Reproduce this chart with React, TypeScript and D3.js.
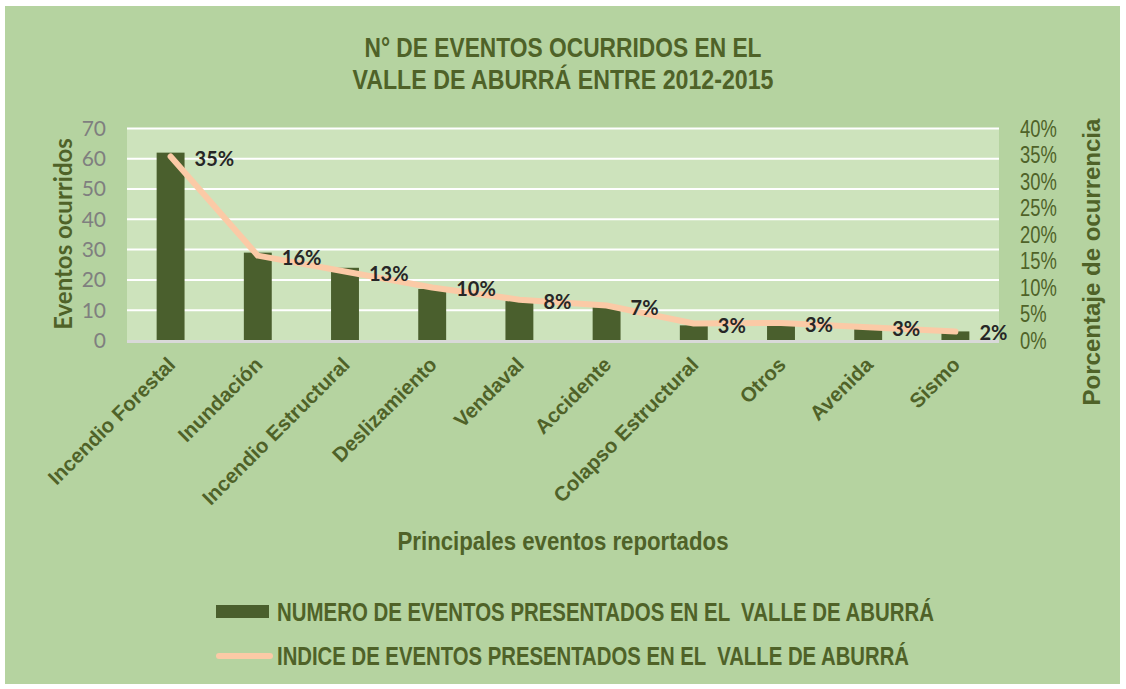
import * as d3 from "d3";
import { useEffect, useRef } from "react";

const categories = [
  "Incendio Forestal",
  "Inundación",
  "Incendio Estructural",
  "Deslizamiento",
  "Vendaval",
  "Accidente",
  "Colapso Estructural",
  "Otros",
  "Avenida",
  "Sismo",
];
const eventCounts = [62, 29, 24, 17, 13, 11, 5, 5, 4, 3];
const occurrenceIndex = [0.347, 0.16, 0.13, 0.1, 0.077, 0.066, 0.032, 0.033, 0.025, 0.017];
const indexLabels = ["35%", "16%", "13%", "10%", "8%", "7%", "3%", "3%", "3%", "2%"];
const leftTicks = [0, 10, 20, 30, 40, 50, 60, 70];
const rightTicks = [0, 0.05, 0.1, 0.15, 0.2, 0.25, 0.3, 0.35, 0.4];
const titleLines = ["N° DE EVENTOS OCURRIDOS EN EL", "VALLE DE ABURRÁ ENTRE 2012-2015"];
const seriesNames = [
  "NUMERO DE EVENTOS PRESENTADOS EN EL  VALLE DE ABURRÁ",
  "INDICE DE EVENTOS PRESENTADOS EN EL  VALLE DE ABURRÁ",
];

const W = 1126;
const H = 689;
const green = "#4f6228";
const barColor = "#4a5f2d";
const lineColor = "#fbcaa6";
const arial = "'Liberation Sans', Arial, sans-serif";

// squeeze Liberation Sans into something close to Arial Narrow
function squeeze(sel: d3.Selection<SVGTextElement, any, any, any>, k: number) {
  sel.each(function () {
    const w = this.getComputedTextLength();
    d3.select(this).attr("textLength", w * k).attr("lengthAdjust", "spacingAndGlyphs");
  });
}

export default function App() {
  const svgRef = useRef<SVGSVGElement>(null);

  useEffect(() => {
    const svg = d3.select(svgRef.current);
    svg.selectAll("*").remove();
    svg.attr("width", W).attr("height", H);

    // plot area bounds
    const left = 127;
    const right = 999;
    const top = 128.4;
    const bottom = 340.5;

    const x = d3.scaleBand<string>().domain(categories).range([left, right]).paddingInner(0.68).paddingOuter(0.34);
    const y = d3.scaleLinear().domain([0, 70]).range([bottom, top]);
    const y2 = d3.scaleLinear().domain([0, 0.4]).range([bottom, top]);
    const cx = (c: string) => (x(c) ?? 0) + x.bandwidth() / 2;

    // backgrounds
    svg.append("rect").attr("width", W).attr("height", H).attr("fill", "#fff");
    svg.append("rect").attr("x", 5).attr("y", 6).attr("width", 1115).attr("height", 678).attr("fill", "#b5d3a0");
    svg.append("rect").attr("x", left).attr("y", top).attr("width", right - left).attr("height", bottom - top).attr("fill", "#cde3bc");

    // title
    svg.append("g")
      .selectAll("text")
      .data(titleLines)
      .enter()
      .append("text")
      .attr("x", 563)
      .attr("y", (_, i) => 57 + i * 32)
      .attr("text-anchor", "middle")
      .attr("font-family", arial)
      .attr("font-weight", "bold")
      .attr("font-size", 27)
      .attr("fill", green)
      .attr("textLength", (_, i) => [397, 421][i])
      .attr("lengthAdjust", "spacingAndGlyphs")
      .text((d) => d);

    // gridlines
    svg.append("g")
      .selectAll("line")
      .data(leftTicks.filter((t) => t > 0))
      .enter()
      .append("line")
      .attr("x1", left)
      .attr("x2", right)
      .attr("y1", (d) => y(d))
      .attr("y2", (d) => y(d))
      .attr("stroke", "#fff")
      .attr("stroke-width", 2);

    // bars
    svg.append("g")
      .selectAll("rect")
      .data(categories)
      .enter()
      .append("rect")
      .attr("x", (d) => x(d) ?? 0)
      .attr("y", (_, i) => y(eventCounts[i]))
      .attr("width", x.bandwidth())
      .attr("height", (_, i) => bottom - y(eventCounts[i]))
      .attr("fill", barColor);

    // x axis line
    svg.append("line")
      .attr("x1", left)
      .attr("x2", right)
      .attr("y1", bottom + 1)
      .attr("y2", bottom + 1)
      .attr("stroke", "#d9d9d9")
      .attr("stroke-width", 3);

    // index line
    const line = d3
      .line<number>()
      .x((_, i) => cx(categories[i]))
      .y((d) => y2(d));
    svg.append("path")
      .attr("d", line(occurrenceIndex))
      .attr("fill", "none")
      .attr("stroke", lineColor)
      .attr("stroke-width", 6)
      .attr("stroke-linecap", "round")
      .attr("stroke-linejoin", "round");

    // data labels
    svg.append("g")
      .selectAll("text")
      .data(indexLabels)
      .enter()
      .append("text")
      .attr("x", (_, i) => cx(categories[i]) + 24)
      .attr("y", (_, i) => y2(occurrenceIndex[i]) + 2)
      .attr("dy", "0.35em")
      .attr("font-family", "Lato, sans-serif")
      .attr("font-weight", "bold")
      .attr("font-size", 20)
      .attr("fill", "#262626")
      .text((d) => d);

    // left axis labels
    svg.append("g")
      .selectAll("text")
      .data(leftTicks)
      .enter()
      .append("text")
      .attr("x", 106)
      .attr("y", (d) => y(d))
      .attr("dy", "0.35em")
      .attr("text-anchor", "end")
      .attr("font-family", "Lato, sans-serif")
      .attr("font-size", 21)
      .attr("fill", "#7f7f7f")
      .text((d) => d);

    // right axis labels
    const rt = svg.append("g")
      .selectAll("text")
      .data(rightTicks)
      .enter()
      .append("text")
      .attr("x", 1020)
      .attr("y", (d) => y2(d))
      .attr("dy", "0.36em")
      .attr("font-family", arial)
      .attr("font-size", 23)
      .attr("fill", green)
      .text((d) => d3.format(".0%")(d));
    squeeze(rt as any, 0.8);

    // category labels
    svg.append("g")
      .selectAll("text")
      .data(categories)
      .enter()
      .append("text")
      .attr("transform", (d) => `translate(${cx(d) + 6}, 366) rotate(-45)`)
      .attr("text-anchor", "end")
      .attr("font-family", arial)
      .attr("font-weight", "bold")
      .attr("font-size", 20.5)
      .attr("fill", green)
      .text((d) => d);

    // axis titles
    svg.append("text")
      .attr("transform", "translate(72, 234) rotate(-90)")
      .attr("text-anchor", "middle")
      .attr("font-family", "Lato, sans-serif")
      .attr("font-weight", "bold")
      .attr("font-size", 24)
      .attr("fill", green)
      .text("Eventos ocurridos");

    svg.append("text")
      .attr("transform", "translate(1100, 262) rotate(-90)")
      .attr("text-anchor", "middle")
      .attr("font-family", arial)
      .attr("font-weight", "bold")
      .attr("font-size", 24)
      .attr("fill", green)
      .text("Porcentaje de ocurrencia");

    svg.append("text")
      .attr("x", 563)
      .attr("y", 550)
      .attr("text-anchor", "middle")
      .attr("font-family", arial)
      .attr("font-weight", "bold")
      .attr("font-size", 25)
      .attr("fill", green)
      .attr("textLength", 331)
      .attr("lengthAdjust", "spacingAndGlyphs")
      .text("Principales eventos reportados");

    // legend
    const legend = svg.append("g");
    legend.append("rect").attr("x", 216).attr("y", 605).attr("width", 53).attr("height", 13).attr("fill", barColor);
    legend.append("line")
      .attr("x1", 219)
      .attr("x2", 270)
      .attr("y1", 656)
      .attr("y2", 656)
      .attr("stroke", lineColor)
      .attr("stroke-width", 6)
      .attr("stroke-linecap", "round");
    legend.selectAll("text")
      .data(seriesNames)
      .enter()
      .append("text")
      .attr("x", 277)
      .attr("y", (_, i) => 621 + i * 44)
      .attr("font-family", arial)
      .attr("font-weight", "bold")
      .attr("font-size", 25)
      .attr("fill", green)
      .style("white-space", "pre")
      .attr("textLength", (_, i) => [657, 632][i])
      .attr("lengthAdjust", "spacingAndGlyphs")
      .text((d) => d);
  }, []);

  return <svg ref={svgRef} style={{ position: "absolute", left: 0, top: 0 }} />;
}
